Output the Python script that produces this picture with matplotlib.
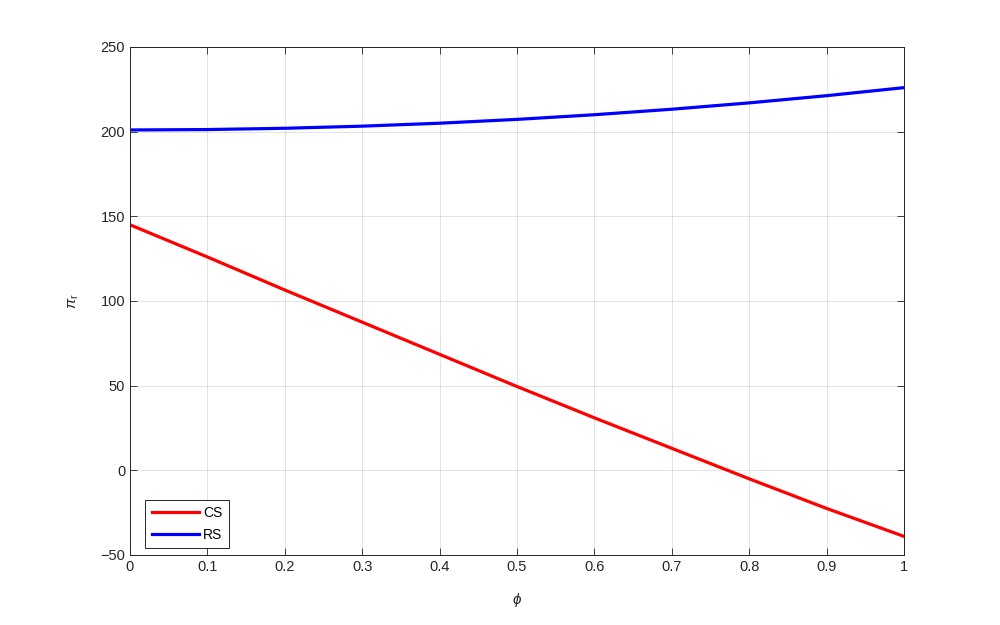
import matplotlib
matplotlib.use("Agg")
import matplotlib.pyplot as plt
import numpy as np

plt.rcParams['font.family'] = ['Liberation Sans', 'DejaVu Sans']
plt.rcParams['mathtext.fontset'] = 'custom'
plt.rcParams['mathtext.rm'] = 'Liberation Sans'
plt.rcParams['mathtext.it'] = 'Liberation Sans:italic'

phi = [0.0, 0.1, 0.2, 0.3, 0.4, 0.5, 0.6, 0.7, 0.8, 0.9, 1.0]
cs = [145, 126, 106.5, 87.5, 68.5, 49.5, 31, 13, -5, -22.5, -39]
rs = [201, 201.25, 202, 203.25, 205, 207.25, 210, 213.25, 217, 221.25, 226]

xticks = [0, 0.1, 0.2, 0.3, 0.4, 0.5, 0.6, 0.7, 0.8, 0.9, 1]
xticklabels = ['0', '0.1', '0.2', '0.3', '0.4', '0.5', '0.6', '0.7', '0.8', '0.9', '1']
yticks = [-50, 0, 50, 100, 150, 200, 250]

fig = plt.figure(figsize=(10, 6.25), dpi=100)
ax = fig.add_axes([0.13, 0.112, 0.774, 0.8128])
ax.plot(phi, cs, color=(1, 0, 0), lw=2.3, label='CS')
ax.plot(phi, rs, color=(0, 0, 1), lw=2.3, label='RS')
ax.set_xlim(0, 1)
ax.set_ylim(-50, 250)
ax.set_xticks(xticks)
ax.set_xticklabels(xticklabels)
ax.set_yticks(yticks)
ax.grid(True, color=(0.15, 0.15, 0.15), alpha=0.15, lw=0.6)
ax.tick_params(direction='in', length=5, width=0.6, labelsize=10.5, colors=(0.15, 0.15, 0.15),
               top=True, right=True)
for s in ax.spines.values():
    s.set_color((0.15, 0.15, 0.15))
    s.set_linewidth(0.7)
ax.set_xlabel(r'$\phi$', fontsize=11, color=(0.15, 0.15, 0.15), labelpad=12)
ax.set_ylabel(r'$\pi_\mathrm{r}$', fontsize=11, color=(0.15, 0.15, 0.15), labelpad=14)
leg = ax.legend(loc='lower left', fontsize=10, fancybox=False, framealpha=1,
                edgecolor=(0.15, 0.15, 0.15), handlelength=3.4, borderpad=0.45,
                labelspacing=0.55, handletextpad=0.3, bbox_to_anchor=(0.011, 0.0))
leg.get_frame().set_linewidth(0.7)
fig.savefig('out.png', dpi=100)
